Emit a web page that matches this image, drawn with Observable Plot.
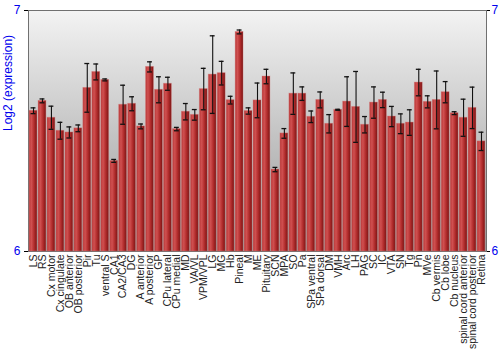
<!DOCTYPE html>
<html>
<head>
<meta charset="utf-8">
<script src="https://cdn.jsdelivr.net/npm/d3@7"></script>
<script src="https://cdn.jsdelivr.net/npm/@observablehq/plot@0.6"></script>
<style>
  body { margin: 0; background: white; }
  g[aria-label="y-axis tick"] { stroke: black; }
</style>
</head>
<body>
<div id="chart"></div>
<script>
const regions = ["LS","RS","Cx motor","Cx cingulate","OB anterior","OB posterior","Pir","Tu","ventral S","CA1","CA2/CA3","DG","A anterior","A posterior","GP","CPu lateral","CPu medial","MD","VA/VL","VPM/VPL","LG","MG","Hb","Pineal","M","ME","Pituitary","SCN","MPA","SO","Pa","SPa ventral","SPa dorsal","DM","VMH","Arc","LH","PAG","SC","IC","VTA","SN","Tg","Pn","MVe","Cb vermis","Cb lobe","Cb nucleus","spinal cord anterior","spinal cord posterior","Retina"];
const values = [6.584,6.625,6.555,6.501,6.494,6.511,6.679,6.745,6.712,6.376,6.609,6.613,6.519,6.766,6.671,6.696,6.508,6.580,6.567,6.674,6.734,6.740,6.628,6.911,6.583,6.627,6.726,6.340,6.490,6.655,6.655,6.559,6.629,6.530,6.588,6.622,6.600,6.526,6.618,6.629,6.560,6.530,6.535,6.701,6.621,6.629,6.661,6.574,6.555,6.596,6.457];
const errors = [0.012,0.008,0.048,0.035,0.023,0.014,0.101,0.033,0.004,0.006,0.081,0.029,0.010,0.021,0.054,0.027,0.007,0.034,0.022,0.086,0.161,0.049,0.016,0.008,0.013,0.072,0.030,0.009,0.020,0.086,0.028,0.024,0.033,0.038,0.002,0.103,0.147,0.034,0.065,0.032,0.042,0.041,0.053,0.055,0.025,0.120,0.044,0.006,0.077,0.086,0.038];
const yTicks = [6, 7];
const yLabel = "Log2 (expression)";

const data = regions.map((r, i) => ({region: r, value: values[i], lo: values[i] - errors[i], hi: values[i] + errors[i]}));

function gradients() {
  const ns = "http://www.w3.org/2000/svg";
  const defs = document.createElementNS(ns, "defs");
  defs.innerHTML = `
    <linearGradient id="bgGrad" x1="0" y1="0" x2="0" y2="1">
      <stop offset="0" stop-color="#f3f3f3"/>
      <stop offset="1" stop-color="#979797"/>
    </linearGradient>
    <linearGradient id="barGrad" x1="0" y1="0" x2="1" y2="0">
      <stop offset="0" stop-color="#b83838"/>
      <stop offset="0.3" stop-color="#d05050"/>
      <stop offset="0.65" stop-color="#b02b2b"/>
      <stop offset="1" stop-color="#7a1515"/>
    </linearGradient>`;
  return defs;
}

const chart = Plot.plot({
  width: 500,
  height: 350,
  marginLeft: 28,
  marginRight: 14,
  marginTop: 10,
  marginBottom: 99,
  style: {fontFamily: "'Liberation Sans', Arial, sans-serif", fontSize: "11px", background: "white"},
  x: {domain: regions, padding: 0.12},
  y: {domain: [6, 7]},
  marks: [
    gradients,
    Plot.frame({fill: "url(#bgGrad)", stroke: "#707070"}),
    Plot.barY(data, {x: "region", y1: 6, y2: "value", fill: "url(#barGrad)", stroke: "#d47a7a", strokeOpacity: 0.45, strokeWidth: 0.8}),
    Plot.ruleX(data, {x: "region", y1: "lo", y2: "hi", stroke: "#111", strokeWidth: 1.1}),
    Plot.tickY(data, {x: "region", y: "lo", stroke: "#111", strokeWidth: 1.3, insetLeft: 1.5, insetRight: 1.5}),
    Plot.tickY(data, {x: "region", y: "hi", stroke: "#111", strokeWidth: 1.3, insetLeft: 1.5, insetRight: 1.5}),
    Plot.axisX({tickRotate: -90, tickSize: 0, tickPadding: 3, fontSize: 10.5, color: "#222", label: null}),
    Plot.axisY({anchor: "left", ticks: yTicks, tickFormat: d3.format("d"), tickSize: 4, tickPadding: 4, fontSize: 12, color: "#0000ee", label: null}),
    Plot.axisY({anchor: "right", ticks: yTicks, tickFormat: d3.format("d"), tickSize: 3, tickPadding: 2, fontSize: 12, color: "#0000ee", label: null}),
    Plot.text([yLabel], {text: d => d, frameAnchor: "left", rotate: -90, dx: -20, fontSize: 12, fill: "#0000ee"})
  ]
});
document.getElementById("chart").appendChild(chart);
</script>
</body>
</html>
